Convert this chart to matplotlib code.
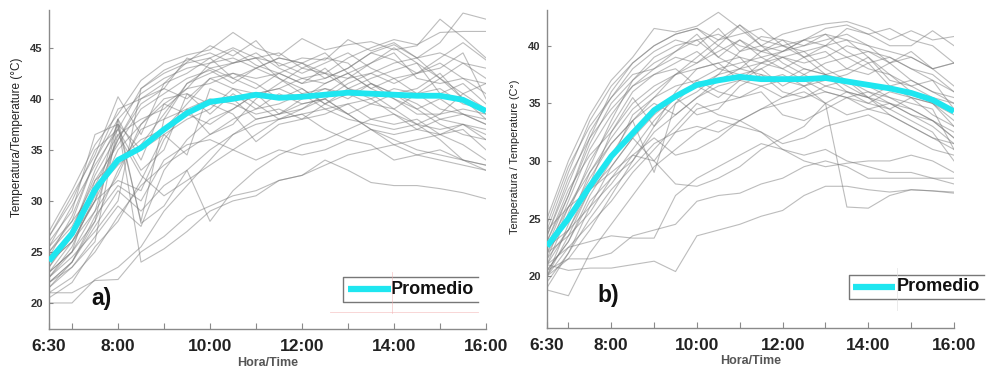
import numpy as np
import matplotlib
matplotlib.use("Agg")
import matplotlib.pyplot as plt
from matplotlib.lines import Line2D

plt.rcParams['font.family'] = ['Liberation Sans', 'DejaVu Sans']

# time grid (hours), every 30 min 6:30 -> 16:00
hours = [6.5, 7.0, 7.5, 8.0, 8.5, 9.0, 9.5, 10.0, 10.5, 11.0, 11.5, 12.0,
         12.5, 13.0, 13.5, 14.0, 14.5, 15.0, 15.5, 16.0]
tick_pos = [6.5, 7, 8, 9, 10, 11, 12, 13, 14, 15, 16]
tick_lab = ["6:30", "", "8:00", "", "10:00", "", "12:00", "", "14:00", "", "16:00"]

mean_a = [24.1, 26.8, 31.1, 34.0, 35.2, 37.0, 38.6, 39.7, 40.0, 40.4, 40.1, 40.2,
          40.4, 40.6, 40.5, 40.4, 40.3, 40.3, 39.9, 38.8]
mean_b = [22.6, 25.0, 27.8, 30.4, 32.4, 34.4, 35.6, 36.6, 37.0, 37.3, 37.1, 37.1,
          37.1, 37.2, 36.9, 36.6, 36.3, 35.9, 35.3, 34.3]

lines_a = [
    [27.0, 31.0, 35.5, 38.5, 41.8, 43.5, 44.3, 44.8, 46.5, 45.0, 44.2, 45.9, 44.8, 45.3, 45.6, 44.8, 45.2, 47.8, 46.0, 44.0],
    [26.5, 30.5, 34.5, 40.2, 36.5, 41.5, 43.6, 45.2, 44.2, 45.7, 43.2, 44.0, 43.8, 45.8, 44.7, 45.5, 44.0, 45.5, 48.4, 47.8],
    [25.5, 29.5, 33.5, 37.0, 41.0, 42.8, 43.8, 44.5, 43.5, 44.0, 44.5, 43.0, 42.5, 44.0, 45.0, 45.8, 45.3, 46.5, 46.6, 46.6],
    [24.5, 28.5, 34.0, 38.0, 40.5, 42.0, 43.0, 43.5, 44.8, 43.3, 42.5, 43.5, 42.0, 43.0, 44.5, 43.8, 42.5, 44.0, 45.5, 43.8],
    [23.5, 27.0, 33.0, 37.5, 28.0, 38.0, 41.5, 42.5, 43.5, 44.5, 43.0, 42.0, 41.5, 42.5, 43.5, 44.5, 42.0, 41.5, 42.0, 40.5],
    [22.5, 25.5, 30.5, 36.0, 40.0, 41.5, 42.5, 44.0, 42.0, 41.0, 42.5, 41.5, 43.0, 41.0, 42.0, 42.8, 43.5, 40.5, 41.5, 39.5],
    [25.0, 27.5, 32.0, 35.5, 39.0, 40.5, 42.0, 42.8, 41.5, 43.0, 42.0, 40.5, 41.0, 40.0, 41.5, 40.5, 41.0, 42.5, 40.0, 38.5],
    [24.0, 26.0, 30.0, 38.0, 34.0, 39.5, 41.0, 41.5, 42.5, 41.5, 40.0, 41.0, 39.5, 41.0, 40.5, 39.0, 40.5, 39.0, 38.5, 37.5],
    [23.0, 25.0, 29.0, 32.5, 37.5, 40.0, 40.5, 38.5, 40.5, 39.0, 40.5, 39.5, 40.0, 38.5, 39.5, 40.5, 39.5, 38.0, 37.5, 36.5],
    [22.0, 24.0, 28.0, 33.0, 37.0, 38.0, 39.0, 40.0, 39.5, 38.5, 39.0, 38.0, 38.5, 39.5, 38.0, 37.5, 38.0, 36.5, 37.0, 35.0],
    [26.0, 29.0, 36.5, 37.5, 35.0, 36.5, 34.5, 41.0, 40.0, 38.0, 38.5, 40.0, 41.0, 40.5, 39.5, 39.0, 37.5, 38.5, 40.5, 39.0],
    [21.5, 23.5, 26.5, 29.5, 27.5, 33.0, 36.0, 38.0, 39.0, 40.5, 41.0, 42.0, 42.5, 41.0, 40.0, 38.5, 37.0, 36.5, 37.5, 37.0],
    [20.0, 20.0, 22.3, 23.5, 25.5, 29.0, 31.5, 34.0, 36.5, 38.0, 38.5, 39.5, 40.0, 41.5, 42.5, 43.5, 44.0, 44.5, 43.5, 42.0],
    [21.0, 21.0, 22.2, 22.3, 25.0, 26.5, 28.5, 29.5, 30.5, 31.0, 32.0, 32.5, 33.5, 34.5, 35.0, 35.5, 36.0, 36.5, 35.5, 34.0],
    [22.0, 23.5, 26.0, 37.5, 24.0, 25.3, 27.0, 29.0, 30.0, 30.5, 32.0, 32.5, 34.0, 33.0, 31.8, 31.5, 31.5, 31.2, 30.8, 30.2],
    [23.0, 25.0, 28.0, 38.0, 27.8, 29.5, 33.0, 28.0, 31.0, 33.0, 34.5, 35.5, 36.0, 37.0, 38.0, 38.5, 37.5, 36.0, 34.0, 33.0],
    [20.5, 22.0, 25.5, 28.0, 32.0, 36.5, 38.0, 39.0, 41.0, 40.5, 38.5, 39.0, 40.0, 38.5, 37.0, 35.5, 34.5, 34.0, 33.5, 33.0],
    [22.5, 24.5, 27.0, 30.0, 41.0, 42.5, 43.5, 44.0, 45.0, 44.0, 42.0, 41.0, 39.5, 38.5, 37.0, 36.5, 37.0, 38.0, 38.5, 37.5],
    [24.5, 27.0, 31.5, 36.0, 39.5, 41.0, 40.0, 42.0, 41.0, 39.5, 38.0, 38.5, 37.0, 36.0, 35.5, 34.0, 34.5, 35.0, 34.0, 33.5],
    [21.5, 24.0, 28.5, 31.5, 30.0, 34.0, 35.5, 36.0, 35.0, 34.0, 35.0, 34.5, 35.0, 36.0, 37.0, 36.0, 35.0, 34.5, 34.0, 33.5],
    [23.5, 26.5, 30.0, 32.0, 31.0, 36.0, 39.0, 36.5, 37.5, 40.0, 41.5, 43.0, 44.0, 43.5, 41.5, 40.0, 39.0, 37.5, 36.5, 36.0],
    [25.0, 28.0, 31.0, 33.5, 35.5, 38.5, 41.5, 43.0, 43.5, 44.0, 43.5, 42.5, 43.5, 44.5, 43.0, 42.0, 42.5, 43.0, 44.5, 40.0],
    [22.0, 24.0, 27.5, 31.0, 29.0, 31.5, 33.0, 35.0, 36.5, 37.5, 38.0, 38.5, 39.0, 39.5, 40.0, 41.0, 40.5, 42.0, 40.5, 41.5],
    [26.5, 30.0, 35.0, 37.0, 33.0, 35.0, 40.5, 39.5, 38.5, 35.8, 37.5, 38.0, 39.5, 40.5, 41.5, 40.5, 39.0, 40.0, 38.5, 38.0],
    [24.0, 27.0, 32.5, 36.5, 38.0, 39.0, 41.0, 43.5, 44.0, 43.0, 44.0, 43.5, 42.5, 42.0, 42.5, 41.5, 42.5, 43.5, 42.0, 41.5],
    [23.0, 26.0, 30.0, 35.0, 37.5, 39.5, 38.5, 37.5, 39.0, 40.5, 41.0, 40.0, 41.5, 42.5, 41.0, 42.0, 40.5, 41.0, 39.5, 39.0],
    [21.0, 22.5, 25.0, 28.5, 31.5, 33.5, 35.0, 36.5, 38.0, 39.0, 39.5, 40.5, 39.0, 38.0, 37.5, 37.0, 37.5, 37.0, 37.5, 36.0],
    [24.0, 26.0, 29.0, 36.5, 32.5, 30.5, 32.0, 33.5, 35.0, 36.5, 38.0, 39.0, 40.5, 42.0, 43.5, 45.0, 43.5, 42.0, 40.0, 38.0],
    [22.5, 25.0, 32.0, 34.0, 36.0, 37.0, 39.5, 42.0, 42.5, 42.0, 42.5, 41.5, 42.0, 43.0, 44.5, 45.3, 44.0, 42.0, 43.5, 43.0],
    [25.5, 28.0, 34.0, 39.0, 40.0, 41.0, 44.0, 43.0, 42.0, 43.0, 44.0, 43.5, 44.5, 42.5, 41.0, 40.0, 38.5, 38.5, 39.0, 38.5],
]

lines_b = [
    [25.0, 30.0, 34.0, 37.0, 39.0, 41.5, 41.2, 41.7, 42.9, 41.5, 40.0, 41.0, 41.5, 41.9, 42.1, 41.5, 40.5, 41.3, 40.5, 40.8],
    [24.0, 29.0, 33.5, 36.5, 38.5, 40.0, 41.0, 41.5, 40.0, 41.8, 40.5, 40.0, 40.5, 41.5, 41.8, 41.0, 40.0, 40.0, 41.3, 40.0],
    [23.5, 28.0, 32.5, 35.5, 38.0, 39.5, 40.5, 40.0, 41.5, 39.5, 40.8, 40.5, 40.0, 40.5, 41.0, 40.0, 38.5, 39.0, 38.0, 38.5],
    [22.5, 27.0, 31.5, 35.0, 37.0, 38.5, 39.5, 41.0, 39.0, 40.5, 39.0, 39.5, 40.5, 40.0, 39.0, 39.5, 39.0, 38.0, 37.5, 36.0],
    [22.0, 26.5, 31.0, 34.0, 36.5, 38.0, 39.0, 38.5, 40.0, 39.0, 38.5, 38.0, 39.0, 39.5, 38.0, 37.5, 38.5, 37.0, 36.0, 35.5],
    [21.0, 25.5, 30.0, 33.0, 36.0, 37.5, 38.5, 39.5, 38.0, 37.5, 38.0, 36.5, 37.5, 38.5, 39.0, 38.0, 37.5, 36.5, 37.0, 34.5],
    [23.0, 27.5, 30.5, 32.5, 35.0, 36.5, 37.5, 38.0, 38.5, 39.0, 37.0, 37.5, 36.5, 37.0, 37.5, 38.5, 36.5, 35.5, 35.0, 33.5],
    [20.0, 24.5, 29.0, 32.0, 34.5, 36.0, 37.5, 39.0, 40.5, 41.8, 40.0, 38.5, 37.5, 36.5, 36.0, 35.5, 35.0, 34.5, 33.5, 32.0],
    [21.5, 24.0, 27.5, 30.5, 33.5, 35.5, 36.5, 37.0, 36.0, 35.5, 36.5, 37.0, 38.0, 37.5, 36.0, 35.0, 34.5, 35.5, 34.0, 33.0],
    [19.0, 22.0, 26.0, 29.5, 32.0, 34.0, 35.5, 36.5, 35.5, 37.0, 38.5, 39.5, 40.0, 41.0, 40.5, 39.0, 37.5, 36.0, 35.0, 33.0],
    [20.5, 21.5, 24.0, 27.0, 30.0, 33.0, 35.0, 36.0, 37.5, 38.0, 38.5, 39.0, 39.5, 40.0, 40.5, 40.0, 39.5, 39.0, 38.0, 36.5],
    [22.0, 23.5, 25.5, 28.5, 30.0, 32.5, 34.0, 35.5, 36.5, 37.0, 36.5, 35.5, 36.5, 37.5, 37.0, 36.5, 35.5, 34.5, 33.5, 32.5],
    [20.0, 22.5, 24.5, 26.5, 29.0, 31.0, 33.0, 35.0, 34.0, 33.5, 34.5, 35.5, 36.0, 35.0, 34.0, 34.5, 35.0, 34.0, 33.0, 31.5],
    [18.8, 18.3, 22.0, 24.5, 27.0, 29.5, 31.0, 32.5, 33.5, 33.0, 32.5, 31.5, 32.0, 33.0, 33.5, 34.0, 33.0, 32.0, 31.0, 30.5],
    [21.0, 20.5, 20.7, 20.7, 21.0, 21.3, 20.4, 23.5, 24.0, 24.5, 25.2, 25.7, 27.0, 27.8, 27.8, 27.5, 27.3, 27.5, 27.4, 27.2],
    [20.0, 21.5, 21.5, 22.0, 23.5, 24.0, 24.5, 26.5, 27.0, 27.2, 28.0, 28.5, 29.5, 30.0, 29.5, 28.5, 28.5, 28.5, 28.5, 28.0],
    [21.0, 22.5, 23.0, 23.5, 23.3, 23.3, 27.0, 28.5, 29.5, 30.5, 31.5, 31.0, 30.5, 31.0, 30.0, 29.5, 29.0, 29.0, 28.5, 28.5],
    [22.5, 24.0, 26.0, 28.0, 30.5, 30.0, 28.0, 27.8, 28.5, 29.5, 31.0, 32.0, 33.0, 35.0, 26.0, 25.9, 27.0, 27.5, 27.4, 27.3],
    [24.0, 26.0, 27.5, 29.0, 30.5, 32.0, 30.5, 31.0, 32.0, 33.5, 32.5, 31.0, 30.0, 29.5, 29.8, 30.0, 30.0, 30.5, 30.0, 29.0],
    [20.5, 23.0, 27.0, 30.0, 34.0, 35.5, 37.5, 38.5, 39.5, 40.5, 39.5, 39.0, 38.5, 39.0, 40.0, 39.5, 38.5, 39.5, 38.0, 38.5],
    [21.5, 26.0, 29.5, 33.5, 37.0, 39.0, 40.0, 40.5, 41.0, 40.0, 39.5, 40.5, 39.0, 37.5, 36.5, 35.5, 36.5, 37.0, 36.0, 35.0],
    [23.0, 27.0, 32.0, 36.0, 38.5, 40.0, 41.0, 41.5, 40.5, 41.0, 41.5, 40.0, 39.0, 40.0, 41.5, 41.0, 41.5, 40.5, 40.0, 38.5],
    [22.0, 25.0, 28.5, 31.5, 33.5, 35.0, 34.0, 35.5, 37.0, 38.0, 37.5, 36.0, 35.5, 36.0, 35.5, 34.5, 34.0, 33.0, 32.0, 31.0],
    [20.0, 23.5, 27.5, 29.5, 32.0, 30.0, 32.5, 34.5, 35.0, 35.5, 36.0, 34.0, 33.5, 34.5, 35.5, 36.0, 35.0, 34.0, 33.5, 32.0],
    [24.5, 29.5, 33.0, 35.5, 37.5, 38.0, 39.5, 40.5, 39.0, 38.0, 39.5, 40.0, 39.5, 38.0, 37.0, 36.0, 35.5, 35.0, 34.5, 31.0],
    [21.0, 24.0, 28.0, 32.5, 35.5, 33.0, 36.0, 38.0, 38.5, 37.0, 38.0, 39.0, 38.0, 37.5, 38.0, 39.0, 37.0, 36.5, 35.5, 35.0],
    [19.5, 22.0, 25.0, 27.5, 29.5, 31.5, 32.5, 33.0, 32.5, 33.5, 34.5, 35.0, 35.5, 36.5, 37.0, 35.5, 34.0, 33.0, 32.0, 31.5],
    [22.5, 26.0, 29.0, 31.5, 33.5, 29.0, 35.0, 37.0, 38.0, 38.5, 39.0, 38.0, 37.0, 36.0, 35.5, 35.0, 36.0, 35.5, 35.0, 34.0],
    [23.5, 28.5, 32.0, 34.5, 36.5, 37.5, 38.0, 36.5, 37.5, 39.5, 40.0, 39.5, 40.5, 41.0, 39.5, 38.5, 39.0, 38.0, 37.0, 36.0],
    [20.5, 23.0, 26.5, 28.5, 31.0, 33.5, 35.5, 34.0, 34.5, 36.5, 37.5, 37.0, 36.5, 35.0, 36.0, 35.5, 34.5, 33.5, 32.5, 30.0],
]

W, H = 986, 369
fig = plt.figure(figsize=(W / 100, H / 100), dpi=100)

CYAN = '#1EE6F0'
GRAY = '#7a7a7a'
SPINE = '#8a8a8a'


def px_axes(l, r, b, t):
    return fig.add_axes([l / W, 1 - b / H, (r - l) / W, (b - t) / H])


def setup(ax, data, ylim, yticks, letter, letter_pos,
          leg_box, leg_line, leg_text_x, leg_y):
    for ln in data:
        ax.plot(hours, ln, color=GRAY, lw=0.8, alpha=0.5, zorder=2)
    ax.set_xlim(6.5, 16)
    ax.set_ylim(*ylim)
    ax.set_xticks(tick_pos)
    ax.set_xticklabels(tick_lab, fontsize=12.5, fontweight='bold', color='#222')
    ax.set_yticks(yticks)
    ax.set_yticklabels([str(v) for v in yticks], fontsize=8, fontweight='bold', color='#333')
    ax.tick_params(axis='x', direction='in', length=4, color=SPINE, pad=7)
    ax.tick_params(axis='y', direction='in', length=3, color=SPINE, pad=4.5)
    for s in ('top', 'right'):
        ax.spines[s].set_visible(False)
    for s in ('left', 'bottom'):
        ax.spines[s].set_color(SPINE)
        ax.spines[s].set_linewidth(1.0)
    ax.set_xlabel('Hora/Time', fontsize=9, fontweight='bold', color='#555', labelpad=2)
    ax.text(letter_pos[0], letter_pos[1], letter, transform=ax.transAxes,
            fontsize=16.5, fontweight='bold', color='#111', va='baseline', ha='left')
    # legend box (top, left, bottom edges)
    x0, x1, y0, y1 = leg_box
    ax.add_line(Line2D([x1, x0, x0, x1], [y1, y1, y0, y0], transform=ax.transAxes,
                       color='#777', lw=1.0, clip_on=False, zorder=5))
    ax.add_line(Line2D(leg_line, [leg_y, leg_y], transform=ax.transAxes,
                       color=CYAN, lw=4.5, solid_capstyle='butt', clip_on=False, zorder=6))
    ax.text(leg_text_x, leg_y, 'Promedio', transform=ax.transAxes, fontsize=13,
            fontweight='bold', color='#111', va='center', ha='left', zorder=6)


axa = px_axes(49, 486, 329, 10)
axa.plot(hours, mean_a, color=CYAN, lw=4.2, zorder=4, solid_capstyle='butt')
setup(axa, lines_a, (17.45, 48.7), [20, 25, 30, 35, 40, 45], 'a)', (0.098, 0.075),
      (0.673, 0.982, 0.0846, 0.163), (0.684, 0.782), 0.783, 0.124)

axb = px_axes(547, 954, 328, 10)
axb.plot(hours, mean_b, color=CYAN, lw=4.2, zorder=4, solid_capstyle='butt')
setup(axb, lines_b, (15.5, 43.1), [20, 25, 30, 35, 40], 'b)', (0.123, 0.082),
      (0.742, 1.074, 0.091, 0.167), (0.752, 0.855), 0.860, 0.129)

# y labels placed in figure pixels
fig.text(17 / W, 1 - 137 / H, 'Temperatura/Temperature (°C)', rotation=90,
         fontsize=8.5, color='#222', ha='center', va='center')
fig.text(515 / W, 1 - 157 / H, 'Temperatura / Temperature (C°)', rotation=90,
         fontsize=7.8, color='#222', ha='center', va='center')

# faint artefact guide lines near legends
fig.add_artist(Line2D([330 / W, 478 / W], [1 - 312 / H, 1 - 312 / H], color='#f3b0b0', lw=0.6, alpha=0.6))
fig.add_artist(Line2D([392 / W, 392 / W], [1 - 272 / H, 1 - 313 / H], color='#f3b0b0', lw=0.6, alpha=0.6))
fig.add_artist(Line2D([897 / W, 897 / W], [1 - 268 / H, 1 - 310 / H], color='#dddddd', lw=0.6, alpha=0.7))

fig.savefig('out.png', dpi=100)
